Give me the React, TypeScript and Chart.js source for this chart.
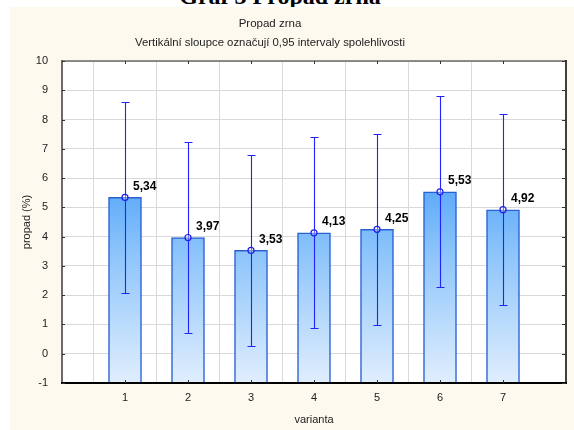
import { useEffect, useRef } from 'react';
import { Chart, registerables } from 'chart.js';

Chart.register(...registerables);

const heading = 'Graf 3 Propad zrna';
const titleText = 'Propad zrna';
const subtitleText = 'Vertikální sloupce označují 0,95 intervaly spolehlivosti';
const xTitle = 'varianta';
const yTitle = 'propad (%)';

const categories = ['1', '2', '3', '4', '5', '6', '7'];
const means = [5.34, 3.97, 3.53, 4.13, 4.25, 5.53, 4.92];
const ciLower = [2.08, 0.71, 0.27, 0.87, 0.99, 2.27, 1.66];
const ciUpper = [8.6, 7.23, 6.79, 7.39, 7.51, 8.79, 8.18];
const meanLabels = ['5,34', '3,97', '3,53', '4,13', '4,25', '5,53', '4,92'];
const yMin = -1;
const yMax = 10;
const yStep = 1;

const FONT = '"Liberation Sans", Arial, sans-serif';

export default function App() {
  const ref = useRef<HTMLCanvasElement | null>(null);

  useEffect(() => {
    const canvas = ref.current;
    if (!canvas) return;
    const labels = ['', ...categories, ''];
    const padData = (arr: number[]) => [null, ...arr, null];

    const decor = {
      id: 'decor',
      beforeDraw(chart: any) {
        const { ctx, chartArea } = chart;
        ctx.save();
        ctx.fillStyle = '#FDF9EE';
        ctx.fillRect(0, 0, chart.width, chart.height);
        ctx.fillStyle = '#FFFFFF';
        ctx.fillRect(chartArea.left, chartArea.top, chartArea.right - chartArea.left, chartArea.bottom - chartArea.top);
        ctx.fillStyle = '#222';
        ctx.textAlign = 'center';
        ctx.textBaseline = 'middle';
        ctx.font = `11.5px ${FONT}`;
        ctx.fillText(titleText, 260, 17);
        ctx.font = `11.35px ${FONT}`;
        ctx.fillText(subtitleText, 260, 36);
        ctx.restore();
      },
      afterDatasetDraw(chart: any, args: any) {
        if (args.index !== 0) return;
        const { ctx, scales } = chart;
        const xs = scales.x;
        const ys = scales.y;
        ctx.save();
        ctx.strokeStyle = '#2222FA';
        ctx.lineWidth = 1.1;
        for (let i = 0; i < categories.length; i++) {
          const x = Math.round(xs.getPixelForValue(i + 1)) + 0.5;
          const yl = Math.round(ys.getPixelForValue(ciLower[i])) + 0.5;
          const yu = Math.round(ys.getPixelForValue(ciUpper[i])) + 0.5;
          ctx.beginPath();
          ctx.moveTo(x, yl);
          ctx.lineTo(x, yu);
          ctx.moveTo(x - 4, yl);
          ctx.lineTo(x + 4, yl);
          ctx.moveTo(x - 4, yu);
          ctx.lineTo(x + 4, yu);
          ctx.stroke();
        }
        ctx.restore();
      },
      afterDraw(chart: any) {
        const { ctx, chartArea, scales } = chart;
        const { left, right, top, bottom } = chartArea;
        const xs = scales.x;
        const ys = scales.y;
        ctx.save();
        ctx.fillStyle = '#000';
        ctx.font = `bold 12px ${FONT}`;
        ctx.textAlign = 'left';
        ctx.textBaseline = 'middle';
        for (let i = 0; i < categories.length; i++) {
          const x = xs.getPixelForValue(i + 1);
          const y = ys.getPixelForValue(means[i]);
          ctx.fillText(meanLabels[i], x + 8, y - 11);
        }
        ctx.lineCap = 'butt';
        ctx.strokeStyle = '#6a6a6a';
        ctx.lineWidth = 1.5;
        ctx.beginPath();
        ctx.moveTo(left - 1, top);
        ctx.lineTo(right, top);
        ctx.stroke();
        ctx.lineWidth = 2;
        ctx.beginPath();
        ctx.moveTo(left, top - 1);
        ctx.lineTo(left, bottom + 1);
        ctx.stroke();
        ctx.strokeStyle = '#000';
        ctx.lineWidth = 1.5;
        ctx.beginPath();
        ctx.moveTo(right, top - 1);
        ctx.lineTo(right, bottom + 1);
        ctx.stroke();
        ctx.lineWidth = 2;
        ctx.beginPath();
        ctx.moveTo(left - 1, bottom);
        ctx.lineTo(right + 1, bottom);
        ctx.stroke();
        ctx.lineWidth = 1;
        ctx.strokeStyle = '#333';
        ctx.beginPath();
        for (let v = yMin; v <= yMax; v += yStep) {
          const y = Math.round(ys.getPixelForValue(v)) + 0.5;
          ctx.moveTo(left, y);
          ctx.lineTo(left + 3, y);
          ctx.moveTo(right, y);
          ctx.lineTo(right - 4, y);
        }
        for (let i = 0; i < categories.length; i++) {
          const x = Math.round(xs.getPixelForValue(i + 1)) + 0.5;
          ctx.moveTo(x, bottom);
          ctx.lineTo(x, bottom - 3);
          ctx.moveTo(x, top);
          ctx.lineTo(x, top + 3);
        }
        ctx.stroke();
        ctx.restore();
      },
    };

    const chart = new Chart(canvas, {
      data: {
        labels,
        datasets: [
          {
            type: 'bar',
            data: padData(means),
            base: yMin,
            order: 2,
            barThickness: 33,
            borderWidth: 1.5,
            borderColor: '#2A60D2',
            borderSkipped: 'bottom',
            backgroundColor: (c: any) => {
              const ch = c.chart;
              if (!ch.chartArea) return '#8CC4FB';
              const ys = ch.scales.y;
              const g = ch.ctx.createLinearGradient(0, ys.getPixelForValue(6), 0, ys.getPixelForValue(-1));
              g.addColorStop(0, '#55A5F9');
              g.addColorStop(0.36, '#8CC4FB');
              g.addColorStop(1, '#E0EEFD');
              return g;
            },
          } as any,
          {
            type: 'line',
            data: padData(means),
            order: 1,
            showLine: false,
            pointRadius: 3,
            pointBorderWidth: 1.2,
            pointBorderColor: '#1E1EE6',
            pointBackgroundColor: 'rgba(255,255,255,0.35)',
          } as any,
        ],
      },
      options: {
        responsive: false,
        animation: false,
        devicePixelRatio: 1,
        layout: { padding: { top: 54, right: 3, left: 0, bottom: 0 } },
        plugins: {
          legend: { display: false },
          tooltip: { enabled: false },
          title: { display: false },
        },
        scales: {
          x: {
            type: 'category',
            offset: false,
            afterFit: (s: any) => {
              s.height = 47;
            },
            grid: {
              drawTicks: false,
              color: (c: any) => (c.index === 0 || c.index === labels.length - 1 ? 'rgba(0,0,0,0)' : '#D9D9D9'),
            },
            border: { display: false },
            ticks: {
              padding: 8,
              color: '#222',
              font: { family: FONT, size: 11 },
              autoSkip: false,
              maxRotation: 0,
            },
            title: {
              display: true,
              text: xTitle,
              color: '#222',
              font: { family: FONT, size: 11 },
              padding: { top: 0, bottom: 3.5 },
            },
          },
          y: {
            type: 'linear',
            min: yMin,
            max: yMax,
            afterFit: (s: any) => {
              s.width = 52;
            },
            grid: { drawTicks: false, color: '#D9D9D9' },
            border: { display: false },
            ticks: {
              stepSize: yStep,
              padding: 14,
              color: '#222',
              font: { family: FONT, size: 11 },
            },
            title: {
              display: true,
              text: yTitle,
              color: '#222',
              font: { family: FONT, size: 11 },
              padding: { top: 10.4, bottom: 0 },
            },
          },
        },
      },
      plugins: [decor],
    } as any);

    return () => chart.destroy();
  }, []);

  return (
    <div>
      <div
        style={{
          position: 'absolute',
          left: 0,
          top: -16,
          width: 560,
          textAlign: 'center',
          font: 'bold 24px "Liberation Serif", "Times New Roman", serif',
          lineHeight: '24px',
          whiteSpace: 'nowrap',
        }}
      >
        {heading}
      </div>
      <div style={{ position: 'absolute', left: 10, top: 7, width: 564, height: 423 }}>
        <canvas ref={ref} width={564} height={423} style={{ display: 'block', width: 564, height: 423 }} />
      </div>
    </div>
  );
}
